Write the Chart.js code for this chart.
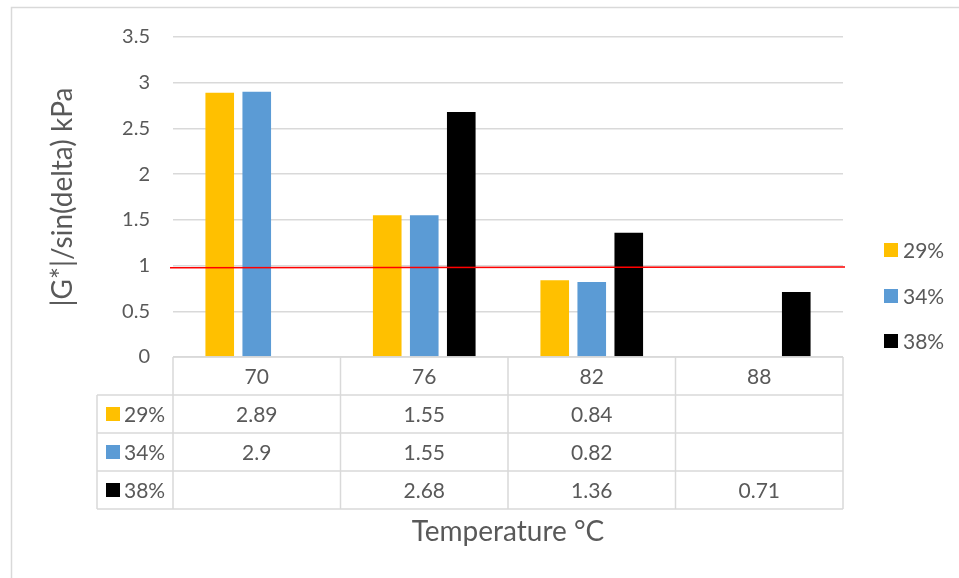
<!DOCTYPE html>
<html>
<head>
<meta charset="utf-8">
<script src="https://cdn.jsdelivr.net/npm/chart.js@4/dist/chart.umd.min.js"></script>
<style>
  html, body { margin: 0; padding: 0; background: #fff; }
  #wrap { position: relative; width: 959px; height: 578px; }
</style>
</head>
<body>
<div id="wrap"><canvas id="c" width="959" height="578"></canvas></div>
<script>
// ---- data ----
const categories = ['70', '76', '82', '88'];
const seriesNames = ['29%', '34%', '38%'];
const values29 = [2.89, 1.55, 0.84, null];
const values34 = [2.9, 1.55, 0.82, null];
const values38 = [null, 2.68, 1.36, 0.71];
const tableText29 = ['2.89', '1.55', '0.84', ''];
const tableText34 = ['2.9', '1.55', '0.82', ''];
const tableText38 = ['', '2.68', '1.36', '0.71'];
const limitLine = [0.975, 0.985]; // red reference line value at left and right ends
const yTicks = [0, 0.5, 1, 1.5, 2, 2.5, 3, 3.5];

const colors = ['#FFC000', '#5B9BD5', '#000000'];
const TXT = '#595959';
const GRID = '#D9D9D9';
const FONT = 'Lato, "Open Sans", sans-serif';

const seriesValues = [values29, values34, values38];
const tableTexts = [tableText29, tableText34, tableText38];

const tablePlugin = {
  id: 'tableAndLegend',
  beforeDraw(chart) {
    const ctx = chart.ctx;
    ctx.save();
    ctx.strokeStyle = GRID;
    ctx.lineWidth = 1.5;
    ctx.beginPath();
    ctx.moveTo(11.5, 578);
    ctx.lineTo(11.5, 7.5);
    ctx.lineTo(959, 7.5);
    ctx.stroke();
    ctx.restore();
  },
  afterDatasetsDraw(chart) {
    const ctx = chart.ctx;
    const ys = chart.scales.y;
    const area = chart.chartArea;
    ctx.save();
    ctx.strokeStyle = '#FF0000';
    ctx.lineWidth = 1.5;
    ctx.beginPath();
    ctx.moveTo(area.left - 3, ys.getPixelForValue(limitLine[0]));
    ctx.lineTo(area.right + 2, ys.getPixelForValue(limitLine[1]));
    ctx.stroke();
    ctx.restore();
  },
  afterDraw(chart) {
    const ctx = chart.ctx;
    const xs = chart.scales.x;
    const area = chart.chartArea;
    const n = categories.length;
    const step = xs.getPixelForValue(1) - xs.getPixelForValue(0);
    const bounds = [];
    for (let i = 0; i <= n; i++) bounds.push(xs.getPixelForValue(0) - step / 2 + i * step);
    const top = area.bottom;
    const rowB = [top, top + 38, top + 76, top + 114, top + 152];
    const leftCol = 97;
    ctx.save();
    ctx.strokeStyle = GRID;
    ctx.lineWidth = 1.5;
    ctx.beginPath();
    ctx.moveTo(bounds[0], rowB[0]); ctx.lineTo(bounds[n], rowB[0]);
    for (let r = 1; r < rowB.length; r++) {
      ctx.moveTo(leftCol, rowB[r]); ctx.lineTo(bounds[n], rowB[r]);
    }
    for (let i = 0; i <= n; i++) {
      ctx.moveTo(bounds[i], rowB[0]); ctx.lineTo(bounds[i], rowB[4]);
    }
    ctx.moveTo(leftCol, rowB[1]); ctx.lineTo(leftCol, rowB[4]);
    ctx.stroke();

    ctx.fillStyle = TXT;
    ctx.font = '21px ' + FONT;
    ctx.textAlign = 'center';
    ctx.textBaseline = 'middle';
    for (let i = 0; i < n; i++) {
      const cx = (bounds[i] + bounds[i + 1]) / 2;
      ctx.fillText(categories[i], cx, (rowB[0] + rowB[1]) / 2 + 1);
      for (let s = 0; s < 3; s++) {
        ctx.fillText(tableTexts[s][i], cx, (rowB[s + 1] + rowB[s + 2]) / 2 + 1);
      }
    }
    for (let s = 0; s < 3; s++) {
      const cy = (rowB[s + 1] + rowB[s + 2]) / 2;
      ctx.fillStyle = colors[s];
      ctx.fillRect(106, cy - 7, 14, 14);
      ctx.fillStyle = TXT;
      ctx.textAlign = 'left';
      ctx.font = '21px ' + FONT;
      ctx.fillText(seriesNames[s], 124, cy + 1);
    }
    const ly = [250, 296, 341];
    for (let s = 0; s < 3; s++) {
      ctx.fillStyle = colors[s];
      ctx.fillRect(884, ly[s] - 7, 14, 14);
      ctx.fillStyle = TXT;
      ctx.textAlign = 'left';
      ctx.font = '21px ' + FONT;
      ctx.fillText(seriesNames[s], 903, ly[s] + 1);
    }
    ctx.restore();
  }
};

const barDatasets = seriesNames.map((name, s) => ({
  label: name,
  data: seriesValues[s],
  backgroundColor: colors[s],
  borderWidth: 0
}));

new Chart(document.getElementById('c'), {
  type: 'bar',
  data: {
    labels: categories,
    datasets: barDatasets
  },
  options: {
    responsive: false,
    animation: false,
    events: [],
    datasets: { bar: { categoryPercentage: 0.663, barPercentage: 0.773 } },
    layout: { padding: { top: 37, right: 116, bottom: 0, left: 0 } },
    plugins: { legend: { display: false }, tooltip: { enabled: false } },
    scales: {
      x: {
        grid: { display: false, drawTicks: false },
        border: { display: false },
        ticks: { display: false },
        title: {
          display: true,
          text: 'Temperature °C',
          color: TXT,
          font: { family: FONT, size: 28 },
          padding: { top: 0, bottom: 29 }
        },
        afterFit(scale) { scale.height = 221; }
      },
      y: {
        min: 0,
        max: 3.5,
        afterBuildTicks(scale) { scale.ticks = yTicks.map(v => ({ value: v })); },
        grid: { color: GRID, lineWidth: 1.5, drawTicks: false },
        border: { display: false },
        ticks: {
          color: TXT,
          font: { family: FONT, size: 20 },
          padding: 23,
          callback: (v) => String(v)
        },
        title: {
          display: true,
          text: '|G*|/sin(delta) kPa',
          color: TXT,
          font: { family: FONT, size: 28 },
          padding: { top: 46, bottom: 0 }
        },
        afterFit(scale) { scale.width = 173; }
      }
    }
  },
  plugins: [tablePlugin]
});
</script>
</body>
</html>
